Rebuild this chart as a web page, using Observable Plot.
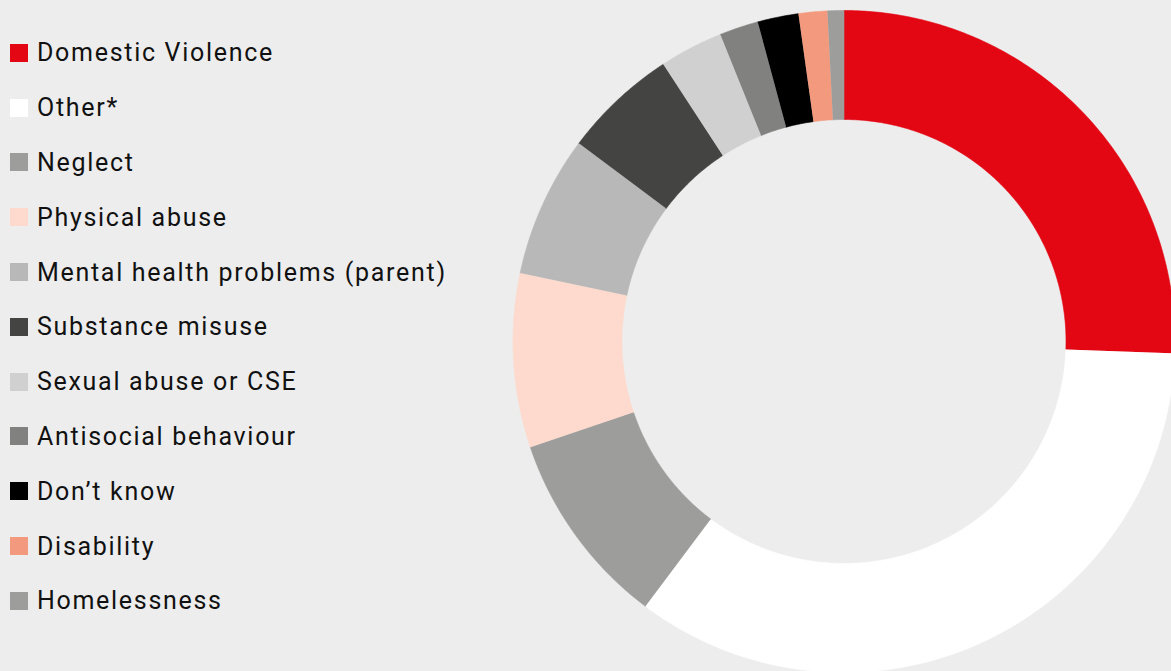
<!DOCTYPE html>
<html>
<head>
<meta charset="utf-8">
<script src="https://cdn.jsdelivr.net/npm/d3@7"></script>
<script src="https://cdn.jsdelivr.net/npm/@observablehq/plot@0.6"></script>
<style>
  html, body { margin: 0; padding: 0; background: #ededed; overflow: hidden; }
  #wrap { position: relative; width: 1171px; height: 671px; }
  #chart { position: absolute; left: 0; top: 0; }
  #chart svg { max-width: none !important; display: block; }
  #legend { position: absolute; left: 10px; top: 25.5px; }
  #legend .lg-swatch { height: 54.8px !important; padding: 0 !important; margin: 0 !important;
    display: flex !important; align-items: center !important;
    font-family: Roboto, sans-serif !important; font-size: 25px !important; color: #111 !important; letter-spacing: 1.7px; }
  #legend .lg-swatch svg { margin-right: 9px !important; }
  #legend, #legend div { background: transparent !important; }
</style>
</head>
<body>
<div id="wrap"><div id="chart"></div><div id="legend"></div></div>
<script>
const categories = ["Domestic Violence", "Other*", "Neglect", "Physical abuse", "Mental health problems (parent)", "Substance misuse", "Sexual abuse or CSE", "Antisocial behaviour", "Don\u2019t know", "Disability", "Homelessness"];
const values = [25.6, 34.7, 9.6, 8.5, 6.9, 5.6, 3.1, 1.9, 2.0, 1.4, 0.8];
const colors = ["#e30613", "#ffffff", "#9d9d9c", "#fddacd", "#b8b8b8", "#444443", "#d0d0d0", "#818180", "#000000", "#f39a7e", "#9d9d9c"];
const outerR = 1;
const innerR = 222 / 331;

const total = d3.sum(values);
const ring = [];
let acc = 0;
categories.forEach((cat, i) => {
  const a0 = acc / total * 2 * Math.PI;
  acc += values[i];
  const a1 = acc / total * 2 * Math.PI;
  const n = Math.max(2, Math.ceil((a1 - a0) / (Math.PI / 360)));
  for (let k = 0; k <= n; k++) {
    const a = a0 + (a1 - a0) * k / n;
    ring.push({cat, x: outerR * Math.sin(a), y: outerR * Math.cos(a)});
  }
  for (let k = n; k >= 0; k--) {
    const a = a0 + (a1 - a0) * k / n;
    ring.push({cat, x: innerR * Math.sin(a), y: innerR * Math.cos(a)});
  }
});

const color = {type: "ordinal", domain: categories, range: colors};

const plot = Plot.plot({
  width: 1171,
  height: 671,
  margin: 0,
  style: {background: "#ededed", overflow: "hidden"},
  x: {domain: [-1, 1], range: [512.5, 1174.5], axis: null},
  y: {domain: [-1, 1], range: [672, 10], axis: null},
  color,
  marks: [
    Plot.line(ring, {x: "x", y: "y", z: "cat", fill: "cat", stroke: "cat", strokeWidth: 0.6, curve: "linear"})
  ]
});
document.getElementById("chart").appendChild(plot);

const legend = Plot.legend({
  color,
  legend: "swatches",
  columns: 1,
  swatchSize: 18,
  className: "lg",
  style: {background: "transparent"}
});
document.getElementById("legend").appendChild(legend);
</script>
</body>
</html>
